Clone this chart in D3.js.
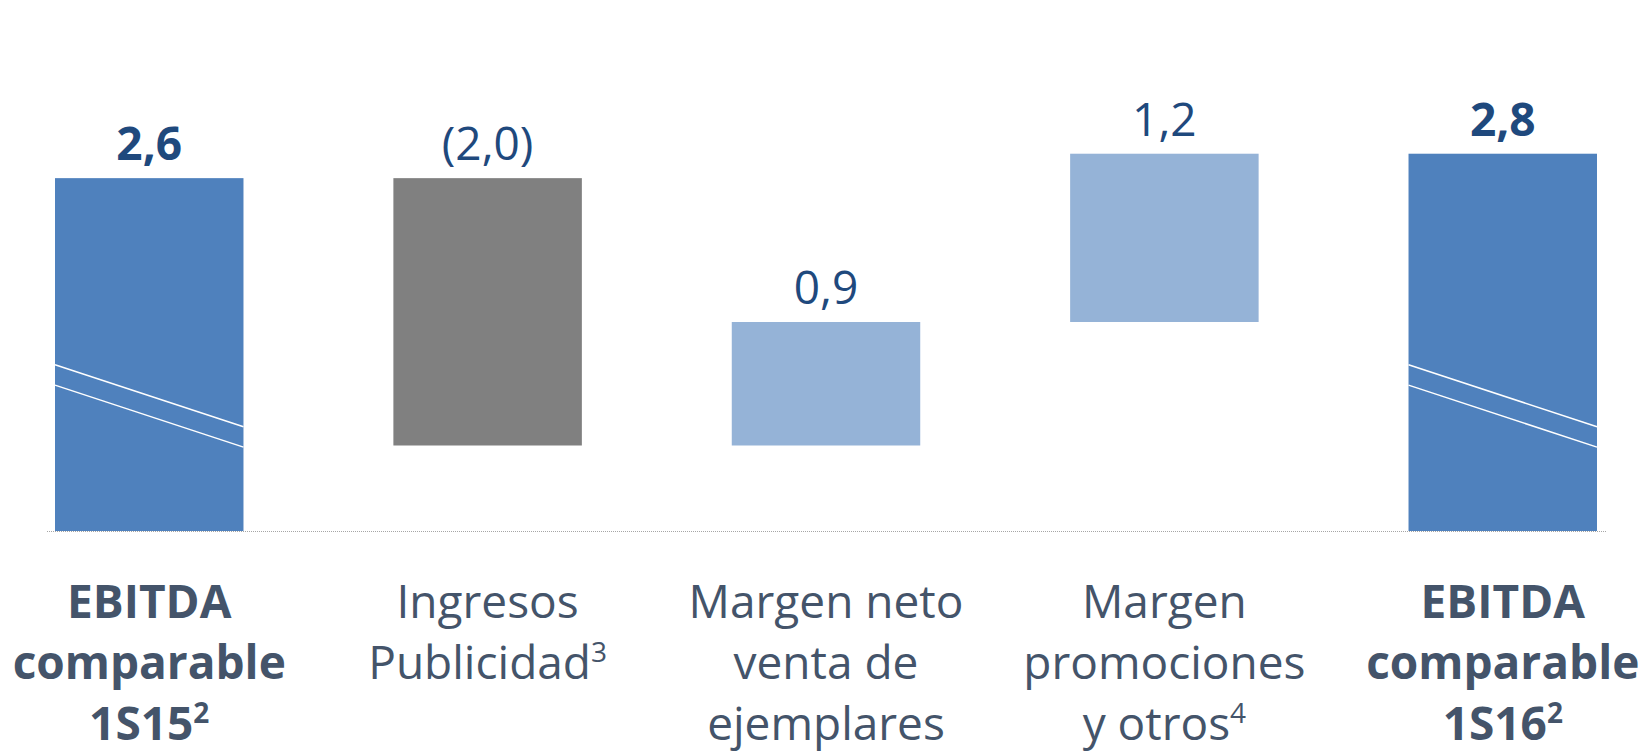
<!DOCTYPE html>
<html>
<head>
<meta charset="utf-8">
<script src="https://cdn.jsdelivr.net/npm/d3@7"></script>
<style>
  html, body { margin: 0; padding: 0; background: #fff; }
  svg { display: block; }
  text { font-family: 'Open Sans', 'Noto Sans', sans-serif; }
</style>
</head>
<body>
<svg id="chart" width="1640" height="753"></svg>
<script>
// categories, one entry per bar; each label is split in lines, sup = superscript note
const categories = ['ini', 'pub', 'ejem', 'promo', 'fin']
const categoryLines = [
  [['EBITDA'], ['comparable'], ['1S15', '2']],
  [['Ingresos'], ['Publicidad', '3']],
  [['Margen neto'], ['venta de'], ['ejemplares']],
  [['Margen'], ['promociones'], ['y otros', '4']],
  [['EBITDA'], ['comparable'], ['1S16', '2']]
]
const barKinds = ['total', 'delta', 'delta', 'delta', 'total']

// values (millones de euros)
const startValue = 2.6
const deltas = [-1.97, 0.91, 1.24]
const endValue = 2.78

// where the axis-break marks sit on the total bars (value at left / right edge)
const breakLeft = 1.225
const breakRight = 0.768
const breakGap = 0.15

const colors = {
  total: '#4F81BD',
  neg: '#808080',
  pos: '#95B3D7',
  value: '#1F497D',
  cat: '#44546A'
}

// build waterfall steps
let steps = []
let run = startValue
steps.push({key: categories[0], y0: 0, y1: startValue, v: startValue, kind: 'total'})
deltas.forEach((d, i) => {
  steps.push({key: categories[i + 1], y0: run, y1: run + d, v: d, kind: d < 0 ? 'neg' : 'pos'})
  run += d
})
steps.push({key: categories[4], y0: 0, y1: endValue, v: endValue, kind: 'total'})

const svg = d3.select('#chart')

const x = d3.scaleBand()
  .domain(categories)
  .range([55, 1597])
  .paddingInner(0.443)
  .paddingOuter(0)

const y = d3.scaleLinear()
  .domain([0, 3.5])
  .range([531, 56])

const fmt = d3.format('.1f')
const label = (s) => {
  let t = fmt(Math.abs(s.v)).replace('.', ',')
  return s.kind === 'neg' ? '(' + t + ')' : t
}

// bars
svg.append('g')
  .selectAll('rect')
  .data(steps)
  .join('rect')
  .attr('x', (d) => x(d.key))
  .attr('width', x.bandwidth())
  .attr('y', (d) => y(Math.max(d.y0, d.y1)))
  .attr('height', (d) => Math.abs(y(d.y0) - y(d.y1)))
  .attr('fill', (d) => colors[d.kind])

// break marks on the total bars
let breaks = svg.append('g')
steps.filter((d) => d.kind === 'total').forEach((d) => {
  let xl = x(d.key)
  let xr = xl + x.bandwidth()
  ;[0, breakGap].forEach((off) => {
    breaks.append('line')
      .attr('x1', xl)
      .attr('x2', xr)
      .attr('y1', y(breakLeft - off))
      .attr('y2', y(breakRight - off))
      .attr('stroke', '#fff')
      .attr('stroke-width', 1.5)
  })
})

// baseline
svg.append('line')
  .attr('x1', x.range()[0] - 8)
  .attr('x2', x.range()[1] + 10)
  .attr('y1', y(0) + 0.5)
  .attr('y2', y(0) + 0.5)
  .attr('stroke', '#A6A6A6')
  .attr('stroke-width', 1)
  .attr('stroke-dasharray', '1,1')

// value labels
svg.append('g')
  .selectAll('text')
  .data(steps)
  .join('text')
  .attr('x', (d) => x(d.key) + x.bandwidth() / 2)
  .attr('y', (d) => y(Math.max(d.y0, d.y1)) - 18)
  .attr('text-anchor', 'middle')
  .attr('fill', colors.value)
  .style('font-size', '46px')
  .style('font-weight', (d) => d.kind === 'total' ? 700 : 400)
  .text(label)

// category labels
const lineH = 61
const catTop = 618
let cats = svg.append('g')
categories.forEach((c, i) => {
  let cx = x(c) + x.bandwidth() / 2
  let bold = barKinds[i] === 'total'
  categoryLines[i].forEach((ln, j) => {
    let t = cats.append('text')
      .attr('x', cx)
      .attr('y', catTop + j * lineH)
      .attr('text-anchor', 'middle')
      .attr('fill', colors.cat)
      .style('font-size', '46px')
      .style('font-weight', bold ? 700 : 400)
    t.append('tspan').text(ln[0])
    if (ln[1]) {
      t.append('tspan')
        .attr('dy', -17)
        .style('font-size', '28px')
        .text(ln[1])
    }
  })
})
</script>
</body>
</html>
